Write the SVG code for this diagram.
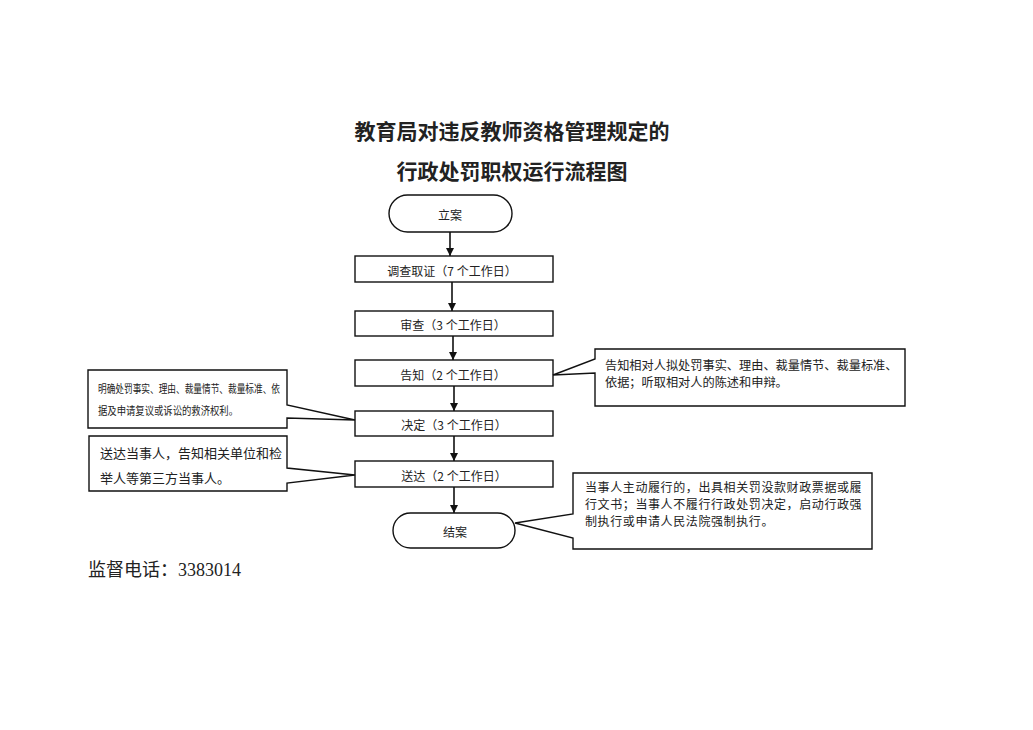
<svg xmlns="http://www.w3.org/2000/svg" width="1033" height="730" viewBox="0 0 1033 730">
<defs>
<style>
.t{font-family:"Noto Sans CJK SC","Noto Sans",sans-serif;fill:#222;dominant-baseline:central}
.box{fill:#fff;stroke:#111;stroke-width:1.4}
.c{text-anchor:middle;font-size:12px}
.ln{stroke:#111;stroke-width:1.6;fill:none}
</style>
<marker id="ah" viewBox="0 0 10 10" refX="10" refY="5" markerWidth="8" markerHeight="9" markerUnits="userSpaceOnUse" orient="auto">
<path d="M0,0 L10,5 L0,10 Z" fill="#111"/>
</marker>
</defs>
<rect width="1033" height="730" fill="#fff"/>

<g id="title">
<text class="t" x="512" y="130" text-anchor="middle" font-size="21" font-weight="bold">教育局对违反教师资格管理规定的</text>
<text class="t" x="512" y="170" text-anchor="middle" font-size="21" font-weight="bold">行政处罚职权运行流程图</text>
</g>

<g id="connectors">
<line class="ln" x1="450" y1="232" x2="450" y2="256" marker-end="url(#ah)"/>
<line class="ln" x1="452" y1="282" x2="452" y2="311" marker-end="url(#ah)"/>
<line class="ln" x1="453" y1="336" x2="453" y2="360" marker-end="url(#ah)"/>
<line class="ln" x1="454" y1="386" x2="454" y2="411" marker-end="url(#ah)"/>
<line class="ln" x1="454" y1="436" x2="454" y2="461" marker-end="url(#ah)"/>
<line class="ln" x1="454" y1="487" x2="454" y2="513" marker-end="url(#ah)"/>
</g>

<g id="n-lian">
<rect class="box" x="389" y="195" width="123" height="37" rx="18.5"/>
<text class="t c" x="450" y="214">立案</text>
</g>
<g id="n-diaocha">
<rect class="box" x="355" y="256" width="198" height="26"/>
<text class="t c" x="452" y="270">调查取证（7 个工作日）</text>
</g>
<g id="n-shencha">
<rect class="box" x="355" y="311" width="198" height="25"/>
<text class="t c" x="453" y="324">审查（3 个工作日）</text>
</g>
<g id="n-gaozhi">
<rect class="box" x="355" y="360" width="198" height="26"/>
<text class="t c" x="453" y="374">告知（2 个工作日）</text>
</g>
<g id="n-jueding">
<rect class="box" x="355" y="411" width="198" height="25"/>
<text class="t c" x="454" y="424">决定（3 个工作日）</text>
</g>
<g id="n-songda">
<rect class="box" x="355" y="461" width="198" height="26"/>
<text class="t c" x="454" y="475">送达（2 个工作日）</text>
</g>
<g id="n-jiean">
<rect class="box" x="393" y="513" width="122" height="35" rx="17.5"/>
<text class="t c" x="455" y="531">结案</text>
</g>

<g id="callout-left-1">
<path class="box" d="M88,370 H287 V405 L355,420 L287,418 V428 H88 Z"/>
<text class="t" x="98" y="388" font-size="11" textLength="182" lengthAdjust="spacingAndGlyphs">明确处罚事实、理由、裁量情节、裁量标准、依</text>
<text class="t" x="98" y="410" font-size="11" textLength="140" lengthAdjust="spacingAndGlyphs">据及申请复议或诉讼的救济权利。</text>
</g>

<g id="callout-left-2">
<path class="box" d="M89,436 H287 V468 L355,475 L287,483 V491 H89 Z"/>
<text class="t" x="100" y="452" font-size="13">送达当事人，告知相关单位和检</text>
<text class="t" x="100" y="477" font-size="13">举人等第三方当事人。</text>
</g>

<g id="callout-right-1">
<path class="box" d="M595,349 H905 V406 H595 V373 L553,375 L595,359 Z"/>
<text class="t" x="605" y="365" font-size="12.2">告知相对人拟处罚事实、理由、裁量情节、裁量标准、</text>
<text class="t" x="605" y="382" font-size="12.2">依据；听取相对人的陈述和申辩。</text>
</g>

<g id="callout-right-2">
<path class="box" d="M573,473 H872 V549 H573 V538 L515,523 L573,514 Z"/>
<text class="t" x="585" y="486" font-size="12" letter-spacing="0.6">当事人主动履行的，出具相关罚没款财政票据或履</text>
<text class="t" x="585" y="503" font-size="12" letter-spacing="0.6">行文书；当事人不履行行政处罚决定，启动行政强</text>
<text class="t" x="585" y="520" font-size="12" letter-spacing="0.6">制执行或申请人民法院强制执行。</text>
</g>

<g id="footer">
<text x="88" y="570" font-size="18" style="font-family:'Liberation Serif','Noto Sans CJK SC',serif;fill:#222;dominant-baseline:central">监督电话：3383014</text>
</g>
</svg>
